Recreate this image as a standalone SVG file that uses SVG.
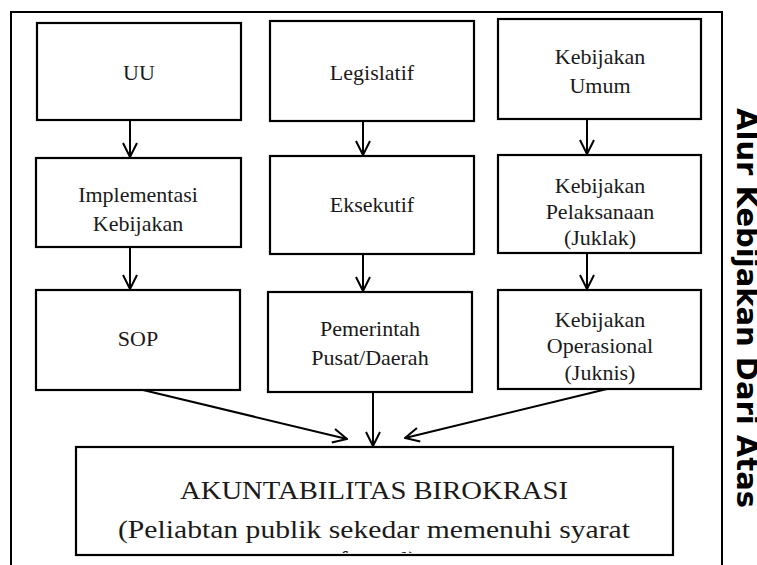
<svg xmlns="http://www.w3.org/2000/svg" width="757" height="565" viewBox="0 0 757 565">
<style>
.box{fill:#fff;stroke:#000;stroke-width:2.2}
.t{font-family:"Liberation Serif","Times New Roman",Tinos,"Noto Serif","DejaVu Serif",FreeSerif,serif;font-size:22px;fill:#1a1a1a;text-anchor:middle}
.big{font-family:"Liberation Serif","Times New Roman",Tinos,"Noto Serif","DejaVu Serif",FreeSerif,serif;font-size:26px;fill:#1a1a1a;text-anchor:middle}
.c{fill:none;stroke:#000;stroke-width:2}
.side{font-family:"DejaVu Sans",sans-serif;font-weight:bold;font-size:29px;fill:#000}
</style>
<defs>
<marker id="ah" viewBox="0 0 16 16" refX="15" refY="8" markerWidth="16" markerHeight="16" markerUnits="userSpaceOnUse" orient="auto">
<path d="M1,1 L15,8 L1,15" fill="none" stroke="#000" stroke-width="2"/>
</marker>
<clipPath id="bclip"><rect x="77" y="448" width="596" height="105"/></clipPath>
</defs>
<rect x="11" y="12" width="711" height="570" fill="none" stroke="#000" stroke-width="2"/>
<text class="side" transform="translate(737,108) rotate(90)">Alur Kebijakan Dari Atas</text>
<g id="n-uu"><rect class="box" x="37" y="23" width="204" height="97"/><text class="t" x="139" y="80">UU</text></g>
<g id="n-legislatif"><rect class="box" x="270" y="21" width="204" height="100"/><text class="t" x="372" y="80">Legislatif</text></g>
<g id="n-umum"><rect class="box" x="498" y="19" width="203" height="100"/><text class="t" x="600" y="64">Kebijakan</text><text class="t" x="600" y="93">Umum</text></g>
<g id="n-impl"><rect class="box" x="36" y="158" width="205" height="89"/><text class="t" x="138" y="202">Implementasi</text><text class="t" x="138" y="231">Kebijakan</text></g>
<g id="n-eksekutif"><rect class="box" x="270" y="156" width="204" height="98"/><text class="t" x="372" y="212">Eksekutif</text></g>
<g id="n-juklak"><rect class="box" x="498" y="155" width="203" height="98"/><text class="t" x="600" y="193">Kebijakan</text><text class="t" x="600" y="219">Pelaksanaan</text><text class="t" x="600" y="245">(Juklak)</text></g>
<g id="n-sop"><rect class="box" x="36" y="290" width="204" height="100"/><text class="t" x="138" y="346">SOP</text></g>
<g id="n-pemerintah"><rect class="box" x="268" y="292" width="204" height="100"/><text class="t" x="370" y="336">Pemerintah</text><text class="t" x="370" y="365">Pusat/Daerah</text></g>
<g id="n-juknis"><rect class="box" x="498" y="290" width="203" height="99"/><text class="t" x="600" y="327">Kebijakan</text><text class="t" x="600" y="353">Operasional</text><text class="t" x="600" y="380">(Juknis)</text></g>
<g id="n-akuntabilitas"><rect class="box" x="76" y="447" width="597" height="108"/>
<g clip-path="url(#bclip)"><text class="big" x="374" y="499" textLength="388" lengthAdjust="spacingAndGlyphs">AKUNTABILITAS BIROKRASI</text><text class="big" x="374" y="538" textLength="512" lengthAdjust="spacingAndGlyphs">(Peliabtan publik sekedar memenuhi syarat</text><text class="big" x="378" y="569">formal)</text></g></g>
<g id="connectors">
<line class="c" x1="130" y1="120" x2="130" y2="157" marker-end="url(#ah)"/>
<line class="c" x1="363" y1="121" x2="363" y2="155" marker-end="url(#ah)"/>
<line class="c" x1="587" y1="119" x2="587" y2="154" marker-end="url(#ah)"/>
<line class="c" x1="130" y1="247" x2="130" y2="289" marker-end="url(#ah)"/>
<line class="c" x1="363" y1="254" x2="363" y2="291" marker-end="url(#ah)"/>
<line class="c" x1="587" y1="253" x2="587" y2="289" marker-end="url(#ah)"/>
<line class="c" x1="143" y1="390" x2="347" y2="439" marker-end="url(#ah)"/>
<line class="c" x1="373" y1="392" x2="373" y2="446" marker-end="url(#ah)"/>
<line class="c" x1="607" y1="389" x2="405" y2="438" marker-end="url(#ah)"/>
</g>
</svg>
